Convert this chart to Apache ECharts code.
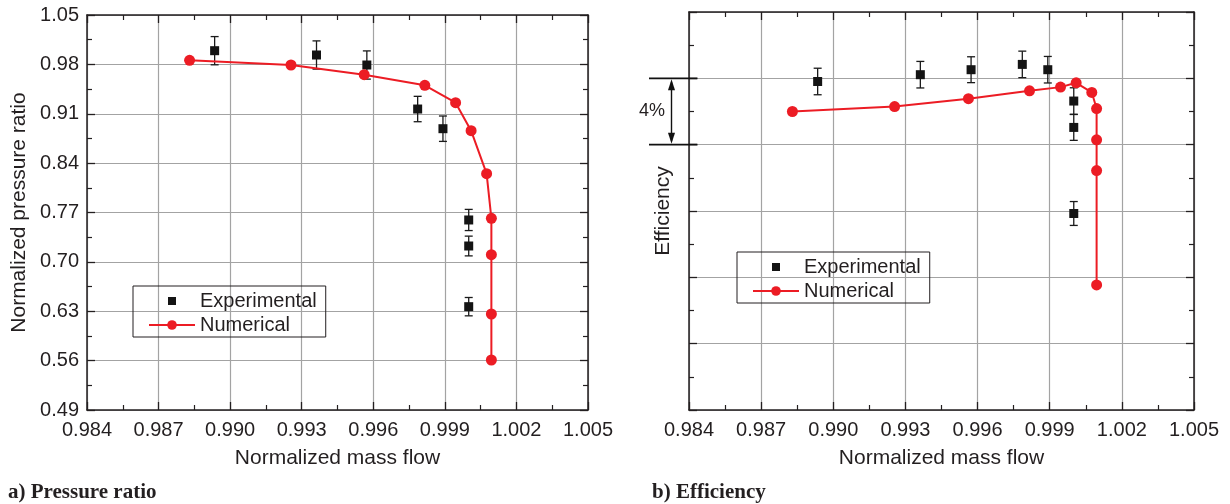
<!DOCTYPE html>
<html>
<head>
<meta charset="utf-8">
<script src="https://cdn.jsdelivr.net/npm/echarts@6/dist/echarts.min.js"></script>
<style>
  html, body { margin: 0; padding: 0; background: #ffffff; }
  #chart { width: 1230px; height: 504px; }
</style>
</head>
<body>
<div id="chart"></div>
<script>
// Measured operating points (normalized mass flow)
const flowExp = [0.98935, 0.99362, 0.99573, 0.99786, 0.99892, 1.00000, 1.00000, 1.00000];
// Measured normalized pressure ratio and its uncertainty
const prExp = [0.9994, 0.9933, 0.9791, 0.9167, 0.8888, 0.7594, 0.7225, 0.6365];
const prErr = [0.020, 0.020, 0.020, 0.018, 0.018, 0.015, 0.014, 0.013];
// Measured efficiency, in percentage points on a relative scale
const effExp = [19.81, 20.22, 20.52, 20.84, 20.52, 18.63, 17.04, 11.85];
const effErr = [0.80, 0.80, 0.78, 0.80, 0.80, 0.80, 0.78, 0.72];

// Simulated characteristic
const flowNum = [0.98830, 0.99255, 0.99562, 0.99816, 0.99945, 1.00010, 1.00075, 1.00095, 1.00095, 1.00095, 1.00095];
const prNum = [0.9858, 0.9791, 0.9654, 0.9503, 0.9257, 0.8860, 0.8250, 0.7618, 0.7102, 0.6261, 0.5609];
const effNum = [18.00, 18.30, 18.77, 19.25, 19.47, 19.73, 19.15, 18.18, 16.29, 14.44, 7.54];

// Axis ranges and tick steps
const flowAxis = { min: 0.984, max: 1.005, step: 0.003 };
const prAxis = { min: 0.49, max: 1.05, step: 0.07 };
const effAxis = { min: 0, max: 24, step: 4 };

const SANS = '"Liberation Sans", Arial, Helvetica, sans-serif';
const SERIF = '"Liberation Serif", "Times New Roman", serif';
const INK = '#231f20';
const GRID_GRAY = '#a3a3a3';
const RED = '#ec1c24';

const pair = (xs, ys) => xs.map((x, i) => [x, ys[i]]);
const errRows = (xs, ys, es) => xs.map((x, i) => [x, ys[i] - es[i], ys[i] + es[i]]);

function axisCommon(range, gridIndex, position, showLabel, fmtDigits) {
  return {
    type: 'value',
    gridIndex,
    position,
    min: range.min,
    max: range.max,
    interval: range.step,
    axisLine: { show: true, onZero: false, lineStyle: { color: INK, width: 1.5 } },
    axisTick: { show: true, inside: true, length: 8, lineStyle: { color: INK, width: 1.3 } },
    minorTick: { show: true, splitNumber: 2, length: 5, lineStyle: { color: INK, width: 1.2 } },
    splitLine: { show: false },
    axisLabel: {
      show: showLabel,
      fontFamily: SANS,
      fontSize: 20,
      color: INK,
      formatter: v => v.toFixed(fmtDigits)
    }
  };
}

function xAxesFor(gridIndex) {
  const bottom = axisCommon(flowAxis, gridIndex, 'bottom', true, 3);
  bottom.axisLabel.margin = 10;
  bottom.splitLine = { show: true, lineStyle: { color: GRID_GRAY, width: 1.2 } };
  bottom.name = 'Normalized mass flow';
  bottom.nameLocation = 'middle';
  bottom.nameGap = 38;
  bottom.nameTextStyle = { fontFamily: SANS, fontSize: 21, color: INK };
  const top = axisCommon(flowAxis, gridIndex, 'top', false, 3);
  return [bottom, top];
}

function yAxesFor(gridIndex, range, digits, title, gap, showLabel) {
  const left = axisCommon(range, gridIndex, 'left', showLabel, digits);
  left.axisLabel.margin = 8;
  left.splitLine = { show: true, lineStyle: { color: GRID_GRAY, width: 1.2 } };
  left.name = title;
  left.nameLocation = 'middle';
  left.nameGap = gap;
  left.nameTextStyle = { fontFamily: SANS, fontSize: 21, color: INK };
  const right = axisCommon(range, gridIndex, 'right', false, digits);
  return [left, right];
}

function errorBars(name, data, xi, yi) {
  return {
    type: 'custom',
    name: name + ' error',
    xAxisIndex: xi,
    yAxisIndex: yi,
    z: 2,
    silent: true,
    data,
    renderItem: (params, api) => {
      const lo = api.coord([api.value(0), api.value(1)]);
      const hi = api.coord([api.value(0), api.value(2)]);
      const cap = 4;
      const style = { stroke: '#1a1a1a', lineWidth: 1.3 };
      return {
        type: 'group',
        children: [
          { type: 'line', shape: { x1: lo[0], y1: lo[1], x2: hi[0], y2: hi[1] }, style },
          { type: 'line', shape: { x1: lo[0] - cap, y1: lo[1], x2: lo[0] + cap, y2: lo[1] }, style },
          { type: 'line', shape: { x1: hi[0] - cap, y1: hi[1], x2: hi[0] + cap, y2: hi[1] }, style }
        ]
      };
    }
  };
}

function expSeries(data, xi, yi) {
  return {
    type: 'scatter', name: 'Experimental', xAxisIndex: xi, yAxisIndex: yi, z: 3,
    symbol: 'rect', symbolSize: 9,
    itemStyle: { color: '#141414', opacity: 1 },
    data
  };
}

function numSeries(data, xi, yi) {
  return {
    type: 'line', name: 'Numerical', xAxisIndex: xi, yAxisIndex: yi, z: 4,
    symbol: 'circle', symbolSize: 11, showSymbol: true,
    lineStyle: { color: RED, width: 2 },
    itemStyle: { color: RED, opacity: 1 },
    data
  };
}

function legendAt(left, top) {
  return {
    left, top,
    orient: 'vertical',
    itemWidth: 46,
    itemHeight: 12,
    itemGap: 4,
    padding: [5, 9, 2, 15],
    borderColor: INK,
    borderWidth: 1,
    selectedMode: false,
    textStyle: { fontFamily: SANS, fontSize: 20, color: INK },
    data: [
      { name: 'Experimental', icon: 'path://M0,0M2,2h8v8h-8zM12,12' },
      { name: 'Numerical' }
    ]
  };
}

const chart = echarts.init(document.getElementById('chart'), null, { renderer: 'canvas' });

const captionStyle = { fontFamily: SERIF, fontWeight: 'bold', fontSize: 21, color: INK };

const option = {
  backgroundColor: '#ffffff',
  animation: false,
  title: [
    { text: 'a) Pressure ratio', left: 8, top: 482, padding: 0, textStyle: captionStyle },
    { text: 'b) Efficiency', left: 652, top: 482, padding: 0, textStyle: captionStyle }
  ],
  grid: [
    { left: 87, top: 15, width: 501, height: 395 },
    { left: 689, top: 12, width: 505, height: 398 }
  ],
  xAxis: [...xAxesFor(0), ...xAxesFor(1)],
  yAxis: [
    ...yAxesFor(0, prAxis, 2, 'Normalized pressure ratio', 57, true),
    ...yAxesFor(1, effAxis, 0, 'Efficiency', 15, false)
  ],
  legend: [legendAt(133, 286), legendAt(737, 252)],
  series: [
    errorBars('Experimental', errRows(flowExp, prExp, prErr), 0, 0),
    expSeries(pair(flowExp, prExp), 0, 0),
    numSeries(pair(flowNum, prNum), 0, 0),
    errorBars('Experimental', errRows(flowExp, effExp, effErr), 2, 2),
    expSeries(pair(flowExp, effExp), 2, 2),
    numSeries(pair(flowNum, effNum), 2, 2)
  ]
};

chart.setOption(option);

// Bracket showing the size of one efficiency grid step (4 points)
const stepTop = 20, stepBottom = 16;
const pTop = chart.convertToPixel({ gridIndex: 1 }, [flowAxis.min, stepTop]);
const pBot = chart.convertToPixel({ gridIndex: 1 }, [flowAxis.min, stepBottom]);
const axisX = pTop[0];
const arrowX = axisX - 17.5;
const head = 12, halfW = 3.5;
const tickStyle = { stroke: '#111', lineWidth: 1.6 };
chart.setOption({
  graphic: [
    { type: 'line', z: 10, shape: { x1: axisX - 40, y1: pTop[1], x2: axisX + 8.5, y2: pTop[1] }, style: tickStyle },
    { type: 'line', z: 10, shape: { x1: axisX - 40, y1: pBot[1], x2: axisX + 8.5, y2: pBot[1] }, style: tickStyle },
    { type: 'line', z: 10, shape: { x1: arrowX, y1: pTop[1] + 4, x2: arrowX, y2: pBot[1] - 4 }, style: { stroke: '#111', lineWidth: 1.4 } },
    { type: 'polygon', z: 10, shape: { points: [[arrowX, pTop[1] + 1], [arrowX - halfW, pTop[1] + head], [arrowX + halfW, pTop[1] + head]] }, style: { fill: '#111' } },
    { type: 'polygon', z: 10, shape: { points: [[arrowX, pBot[1] - 1], [arrowX - halfW, pBot[1] - head], [arrowX + halfW, pBot[1] - head]] }, style: { fill: '#111' } },
    { type: 'text', z: 10, x: axisX - 37, y: (pTop[1] + pBot[1]) / 2,
      style: { text: '4%', fontFamily: SANS, fontSize: 18, fill: INK, align: 'center', verticalAlign: 'middle' } }
  ]
});
</script>
</body>
</html>
